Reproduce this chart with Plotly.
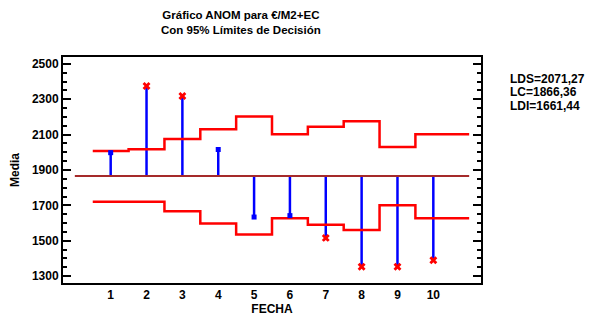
import plotly.graph_objects as go

groups = [1, 2, 3, 4, 5, 6, 7, 8, 9, 10]
means = [1998, 2375, 2318, 2016, 1634, 1642, 1516, 1353, 1353, 1390]
upper = [2007, 2018, 2076, 2131, 2202, 2102, 2144, 2175, 2030, 2102]
lower = [1720, 1720, 1667, 1597, 1535, 1627, 1590, 1561, 1700, 1627]
center = 1866.36
stats_text = ["LDS=2071,27", "LC=1866,36", "LDI=1661,44"]

FONT = "Liberation Sans, Arial, sans-serif"

fig = go.Figure()

# stems
for g, m in zip(groups, means):
    fig.add_trace(go.Scatter(x=[g, g], y=[center, m], mode="lines",
                             line=dict(color="#0000ff", width=2.5),
                             showlegend=False, hoverinfo="skip"))

# limit step lines
xs = [g - 0.5 for g in groups] + [groups[-1] + 1]
fig.add_trace(go.Scatter(x=xs, y=upper + [upper[-1]], mode="lines", line_shape="hv",
                         line=dict(color="#ff0000", width=2.5), showlegend=False))
fig.add_trace(go.Scatter(x=xs, y=lower + [lower[-1]], mode="lines", line_shape="hv",
                         line=dict(color="#ff0000", width=2.5), showlegend=False))

# center line
fig.add_trace(go.Scatter(x=[0, groups[-1] + 1], y=[center, center], mode="lines",
                         line=dict(color="#a52a2a", width=2), showlegend=False))

# markers
inside_x = [g for g, m, u, l in zip(groups, means, upper, lower) if l <= m <= u]
inside_y = [m for g, m, u, l in zip(groups, means, upper, lower) if l <= m <= u]
out_x = [g for g, m, u, l in zip(groups, means, upper, lower) if not (l <= m <= u)]
out_y = [m for g, m, u, l in zip(groups, means, upper, lower) if not (l <= m <= u)]
fig.add_trace(go.Scatter(x=inside_x, y=inside_y, mode="markers",
                         marker=dict(symbol="square", size=5, color="#0000ff"),
                         showlegend=False))
fig.add_trace(go.Scatter(x=out_x, y=out_y, mode="markers",
                         marker=dict(symbol="x", size=7, color="#ff0000",
                                     line=dict(width=0)),
                         showlegend=False))

fig.update_layout(
    width=589, height=325,
    margin=dict(l=63, r=108, t=57, b=37),
    paper_bgcolor="white", plot_bgcolor="white",
    font=dict(family=FONT, color="black"),
    showlegend=False,
)

fig.update_xaxes(
    range=[-0.33, 11.33], tickmode="array", tickvals=groups,
    ticktext=[str(g) for g in groups], ticks="", showgrid=False, zeroline=False,
    showline=True, linecolor="black", linewidth=2, mirror=True,
    tickfont=dict(size=12, family=FONT, weight="bold"),
    title=dict(text="FECHA", font=dict(size=12, family=FONT, weight="bold"), standoff=2),
)
fig.update_yaxes(
    range=[1261, 2539], tickmode="array", tickvals=[1300, 1500, 1700, 1900, 2100, 2300, 2500],
    ticks="inside", ticklen=8, tickwidth=2, tickcolor="black",
    minor=dict(dtick=50, tick0=1300, ticks="inside", ticklen=4, tickwidth=2, tickcolor="black", showgrid=False),
    showgrid=False, zeroline=False,
    showline=True, linecolor="black", linewidth=2, mirror="ticks",
    tickfont=dict(size=12, family=FONT, weight="bold"),
    title=dict(text="Media", font=dict(size=12, family=FONT, weight="bold"), standoff=10),
)

fig.add_annotation(text="Gráfico ANOM para €/M2+EC<br>Con 95% Límites de Decisión",
                   xref="paper", yref="paper", x=(241 - 63) / (589 - 63 - 108),
                   y=1 + (57 - 22) / (325 - 57 - 37), xanchor="center", yanchor="middle",
                   showarrow=False, align="center",
                   font=dict(size=11.5, family=FONT, weight="bold"))

for i, t in enumerate(stats_text):
    fig.add_annotation(text=t, xref="paper", yref="paper",
                       x=(508 - 63) / (589 - 63 - 108), y=1 - (79 + 14 * i - 57) / (325 - 57 - 37),
                       xanchor="left", yanchor="middle", showarrow=False,
                       font=dict(size=12, family=FONT, weight="bold"))

fig.write_html("out.html")
